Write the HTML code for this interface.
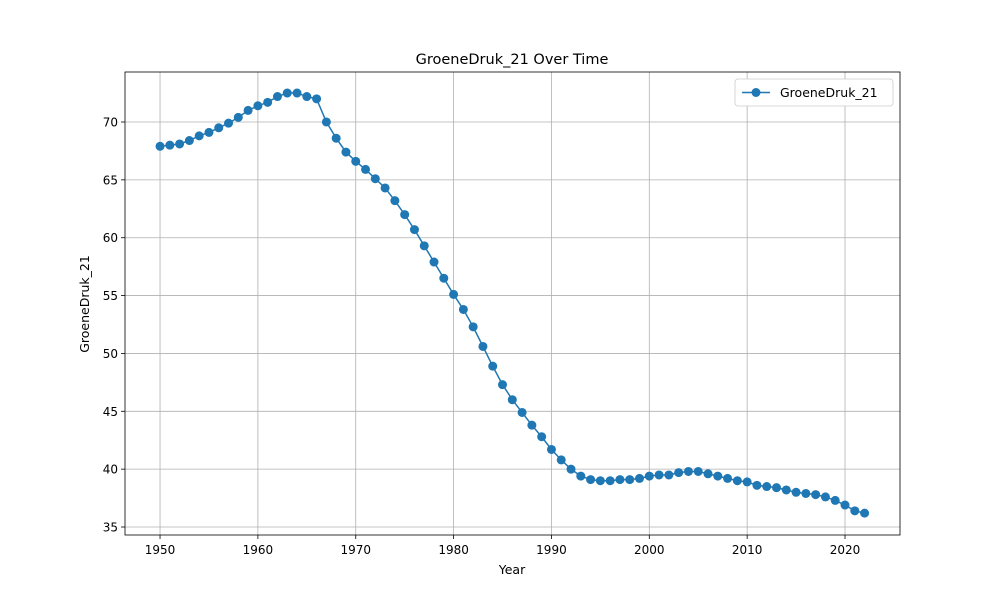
<!DOCTYPE html>
<html><head><meta charset="utf-8"><style>
body{margin:0;background:#fff;font-family:"Liberation Sans","DejaVu Sans",sans-serif;}
svg text{font-family:"DejaVu Sans","Liberation Sans",sans-serif;}
</style></head><body>
<svg id="chart" width="1000" height="600" xmlns="http://www.w3.org/2000/svg"></svg>
<script>
const years=[];for(let y=1950;y<=2022;y++)years.push(y);
const values=[67.9,68.0,68.1,68.4,68.8,69.1,69.5,69.9,70.4,71.0,71.4,71.7,72.2,72.5,72.5,72.2,72.0,70.0,68.6,67.4,66.6,65.9,65.1,64.3,63.2,62.0,60.7,59.3,57.9,56.5,55.1,53.8,52.3,50.6,48.9,47.3,46.0,44.9,43.8,42.8,41.7,40.8,40.0,39.4,39.1,39.0,39.0,39.1,39.1,39.2,39.4,39.5,39.5,39.7,39.8,39.8,39.6,39.4,39.2,39.0,38.9,38.6,38.5,38.4,38.2,38.0,37.9,37.8,37.6,37.3,36.9,36.4,36.2];
const xTicks=[1950,1960,1970,1980,1990,2000,2010,2020];
const yTicks=[35,40,45,50,55,60,65,70];
const L=125,R=900,T=72,B=535;
const xMin=1946.42,xMax=2025.62,yMin=34.31,yMax=74.32;
const sx=v=>L+(v-xMin)/(xMax-xMin)*(R-L);
const sy=v=>B-(v-yMin)/(yMax-yMin)*(B-T);
const svg=document.getElementById('chart');
const NS='http://www.w3.org/2000/svg';
function mk(t,a,p){const e=document.createElementNS(NS,t);for(const k in a)e.setAttribute(k,a[k]);(p||svg).appendChild(e);return e;}
xTicks.forEach(v=>{const x=sx(v);
const g=mk('line',{x1:x,x2:x,y1:T,y2:B,stroke:'#b0b0b0','stroke-width':0.8});


mk('line',{x1:x,x2:x,y1:B,y2:B+4,stroke:'#000','stroke-width':0.8});
const t=mk('text',{x:x,y:B+19,'text-anchor':'middle','font-size':12});t.textContent=v;

});
yTicks.forEach(v=>{const y=sy(v);
const g=mk('line',{x1:L,x2:R,y1:y,y2:y,stroke:'#b0b0b0','stroke-width':0.8});


mk('line',{x1:L-4,x2:L,y1:y,y2:y,stroke:'#000','stroke-width':0.8});
const t=mk('text',{x:L-7,y:y+4.5,'text-anchor':'end','font-size':12});t.textContent=v;

});
const fr=mk('rect',{x:L,y:T,width:R-L,height:B-T,fill:'none',stroke:'#000','stroke-width':0.8});


const pts=years.map((y,i)=>sx(y)+','+sy(values[i])).join(' ');
const pl=mk('polyline',{points:pts,fill:'none',stroke:'#1f77b4','stroke-width':1.5});


years.forEach((y,i)=>{const c=mk('circle',{cx:sx(y),cy:sy(values[i]),r:4.5,fill:'#1f77b4'});

});
let t=mk('text',{x:512,y:64,'text-anchor':'middle','font-size':14.5});t.textContent='GroeneDruk_21 Over Time';


t=mk('text',{x:512,y:574,'text-anchor':'middle','font-size':12.5});t.textContent='Year';


t=mk('text',{x:89,y:304,'text-anchor':'middle','font-size':12.5,transform:'rotate(-90 89 304)'});t.textContent='GroeneDruk_21';


const lg=mk('g',{});


mk('rect',{x:735,y:79,width:158,height:27,rx:3,fill:'#fff',stroke:'#ccc','stroke-width':0.8},lg);
mk('line',{x1:742,x2:770,y1:92.5,y2:92.5,stroke:'#1f77b4','stroke-width':1.5},lg);
mk('circle',{cx:756,cy:92.5,r:4.5,fill:'#1f77b4'},lg);
t=mk('text',{x:780,y:97,'font-size':12.5},lg);t.textContent='GroeneDruk_21';


</script>
</body></html>
